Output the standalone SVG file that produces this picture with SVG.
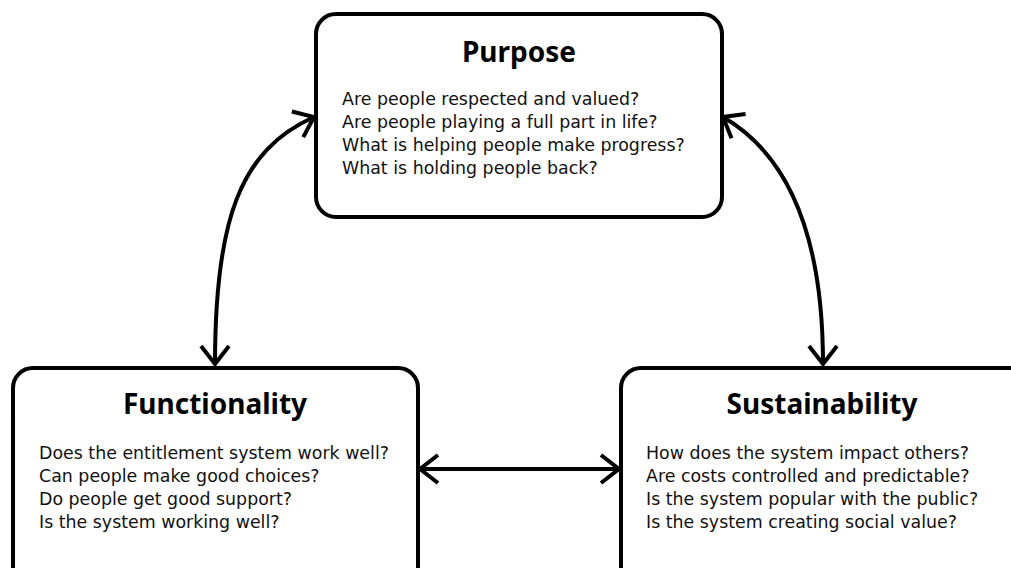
<svg xmlns="http://www.w3.org/2000/svg" width="1011" height="568" viewBox="0 0 1011 568">
  <style>
    .box { fill: #ffffff; stroke: #000000; stroke-width: 4; }
    .title { font-family: "Noto Sans", "Open Sans", sans-serif; font-weight: 700; font-size: 28px; fill: #000000; text-anchor: middle; }
    .body { font-family: "DejaVu Sans", "Noto Sans", sans-serif; font-size: 17.4px; fill: #111111; }
    .link { fill: none; stroke: #000000; stroke-width: 4; }
  </style>
  <defs>
    <marker id="chevron" markerUnits="userSpaceOnUse" viewBox="-24 -20 30 40" markerWidth="30" markerHeight="40" refX="0" refY="0" orient="auto-start-reverse" overflow="visible">
      <path d="M -18 -14 L 0 0 L -18 14" fill="none" stroke="#000000" stroke-width="4" stroke-linecap="butt" stroke-linejoin="miter"/>
    </marker>
  </defs>
  <rect width="1011" height="568" fill="#ffffff"/>

  <g id="connectors">
    <path class="link" d="M 215 364 C 215 220 240 150 314 117" marker-start="url(#chevron)" marker-end="url(#chevron)"/>
    <path class="link" d="M 723 117 C 780 150 823 220 823 364" marker-start="url(#chevron)" marker-end="url(#chevron)"/>
    <path class="link" d="M 420 469 L 619 469" marker-start="url(#chevron)" marker-end="url(#chevron)"/>
  </g>

  <g id="purpose">
    <rect class="box" x="316" y="14" width="406" height="203" rx="20"/>
    <text class="title" x="519" y="62">Purpose</text>
    <text class="body" x="342" y="105">Are people respected and valued?</text>
    <text class="body" x="342" y="128">Are people playing a full part in life?</text>
    <text class="body" x="342" y="151">What is helping people make progress?</text>
    <text class="body" x="342" y="174">What is holding people back?</text>
  </g>

  <g id="functionality">
    <rect class="box" x="13" y="368" width="405" height="240" rx="20"/>
    <text class="title" x="215" y="414">Functionality</text>
    <text class="body" x="39" y="459">Does the entitlement system work well?</text>
    <text class="body" x="39" y="482">Can people make good choices?</text>
    <text class="body" x="39" y="505">Do people get good support?</text>
    <text class="body" x="39" y="528">Is the system working well?</text>
  </g>

  <g id="sustainability">
    <rect class="box" x="621" y="368" width="420" height="240" rx="20"/>
    <text class="title" x="822" y="414">Sustainability</text>
    <text class="body" x="646" y="459">How does the system impact others?</text>
    <text class="body" x="646" y="482">Are costs controlled and predictable?</text>
    <text class="body" x="646" y="505">Is the system popular with the public?</text>
    <text class="body" x="646" y="528">Is the system creating social value?</text>
  </g>
</svg>
